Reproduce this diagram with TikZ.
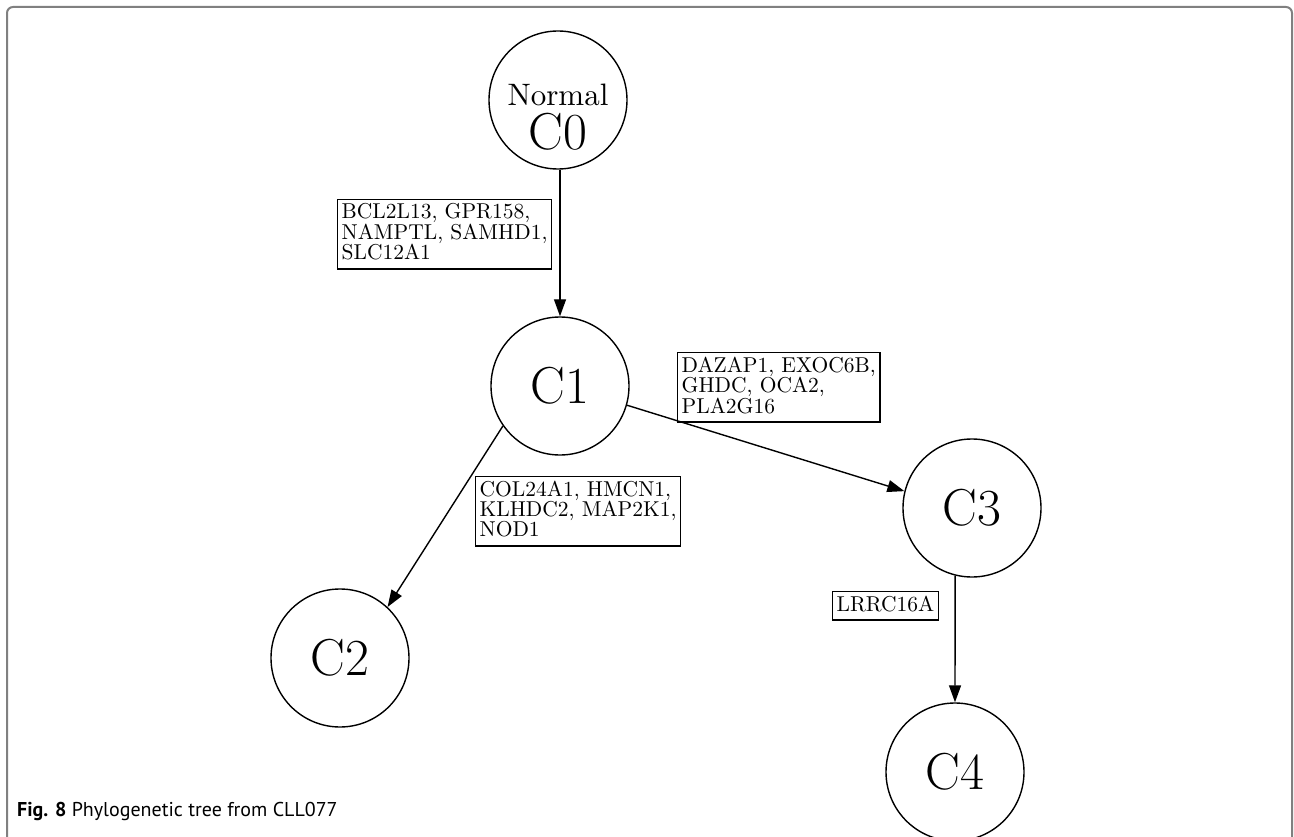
\documentclass[tikz,border=0pt]{standalone}
\usepackage{fontspec}
\newfontfamily\capfont{PT Sans}
\newfontfamily\lmten{lmroman10-regular.otf}
\usetikzlibrary{arrows.meta}

\begin{document}
\begin{tikzpicture}[
            x = 1pt, y = -1pt,
            clone/.style={draw, circle, line width=1.4pt, minimum size=138pt, inner sep=0pt, font=\fontsize{52}{52}\selectfont},
            genes/.style={draw, rectangle, line width=1.4pt, anchor=north west, align=left, inner xsep=4pt, inner ysep=4pt, text depth=5pt, font=\lmten\fontsize{21.5}{19}\selectfont},
            link/.style={line width=1.4pt, -{Triangle[length=17pt, width=12pt]}},
            ]
        \useasboundingbox (0,0) rectangle (1294,837);
        \draw[gray, line width=2pt, rounded corners=6pt] (7,837) -- (7,7) -- (1292,7) -- (1292,837);

        % clones
        \node[clone] (c0) at (558,100) {\raisebox{-50pt}[0pt][0pt]{\shortstack{{\lmten\fontsize{31}{31}\selectfont Normal}\\[5pt]C0}}};
        \node[clone] (c1) at (560,386) {C1};
        \node[clone] (c2) at (340,658) {C2};
        \node[clone] (c3) at (972,508) {C3};
        \node[clone] (c4) at (955,772) {C4};

        % mutations on the edges
        \node[genes] (m1) at (337,199) {BCL2L13, GPR158,\\NAMPTL, SAMHD1,\\SLC12A1};
        \node[genes] (m3) at (677,352) {DAZAP1, EXOC6B,\\GHDC, OCA2,\\PLA2G16};
        \node[genes] (m2) at (475,476) {COL24A1, HMCN1,\\KLHDC2, MAP2K1,\\NOD1};
        \node[genes] (m4) at (832,591) {LRRC16A};

        \draw[link] (c0.south -| c1) -- (c1.north);
        \draw[link] (c1.215) -- (c2.47);
        \draw[link] (c1.344) -- (c3.166);
        \draw[link] (c3.256) -- (c4.north);

        \node[anchor=base west, inner sep=0pt, font=\capfont\fontsize{20}{24}\selectfont] (caption) at (17,816) {\textbf{Fig. 8} Phylogenetic tree from CLL077};
    \end{tikzpicture}
\end{document}
